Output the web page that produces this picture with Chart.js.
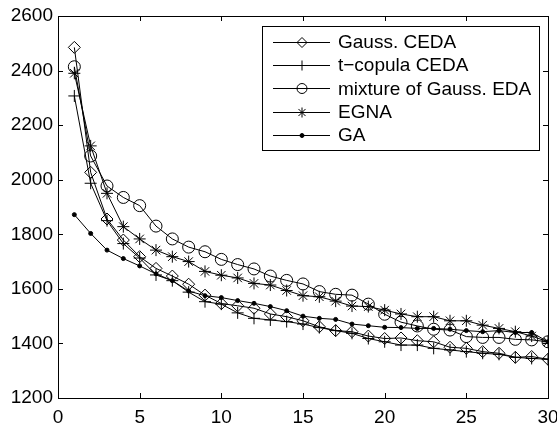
<!DOCTYPE html>
<html>
<head>
<meta charset="utf-8">
<script src="https://cdn.jsdelivr.net/npm/chart.js@4.4.0/dist/chart.umd.min.js"></script>
<style>
html,body{margin:0;padding:0;background:#fff;}
</style>
</head>
<body>
<canvas id="c" width="557" height="426"></canvas>
<script>
// generations on the x axis
const generations = [1,2,3,4,5,6,7,8,9,10,11,12,13,14,15,16,17,18,19,20,21,22,23,24,25,26,27,28,29,30];

const gaussCeda = [2485,2027,1856,1779,1718,1675,1647,1617,1577,1546,1538,1529,1508,1498,1483,1461,1447,1443,1427,1418,1420,1410,1406,1386,1382,1370,1364,1349,1352,1342];
const tCopulaCeda = [2307,1987,1850,1766,1713,1651,1630,1588,1553,1544,1512,1492,1486,1480,1471,1458,1447,1437,1418,1406,1394,1394,1382,1376,1370,1364,1360,1349,1345,1342];
const mixtureEda = [2414,2087,1977,1935,1905,1830,1783,1753,1736,1708,1689,1673,1647,1631,1618,1590,1580,1577,1544,1507,1478,1464,1452,1449,1425,1422,1422,1415,1413,1406];
const egna = [2390,2124,1950,1828,1783,1742,1718,1700,1664,1650,1640,1620,1614,1594,1575,1571,1555,1537,1535,1522,1508,1498,1498,1483,1483,1467,1455,1443,1427,1406];
const ga = [1872,1803,1742,1711,1684,1655,1630,1592,1575,1568,1557,1547,1535,1520,1500,1492,1488,1471,1465,1459,1458,1455,1455,1452,1447,1443,1447,1440,1440,1406];

const xTicks = [0,5,10,15,20,25,30];
const yTicks = [1200,1400,1600,1800,2000,2200,2400,2600];

const FONT = "'Liberation Sans', Arial, Helvetica, sans-serif";

function pts(arr){ return arr.map((v,i)=>({x:generations[i], y:v})); }

function series(label, values, style, radius, fill){
  return {
    label: label,
    data: pts(values),
    borderColor: '#000',
    backgroundColor: fill || 'rgba(0,0,0,0)',
    borderWidth: 1,
    pointStyle: style,
    pointRadius: radius,
    pointBorderWidth: 1,
    pointBorderColor: '#000',
    pointBackgroundColor: fill || 'rgba(0,0,0,0)',
    tension: 0
  };
}

// inward ticks on all four sides + box
const boxTicks = {
  id: 'boxTicks',
  afterDraw(chart){
    const ctx = chart.ctx, a = chart.chartArea;
    const xs = chart.scales.x, ys = chart.scales.y;
    const len = 5;
    ctx.save();
    ctx.strokeStyle = '#000';
    ctx.lineWidth = 1;
    ctx.beginPath();
    xTicks.forEach(v=>{
      const px = Math.round(xs.getPixelForValue(v)) + 0.5;
      ctx.moveTo(px, a.bottom); ctx.lineTo(px, a.bottom - len);
      ctx.moveTo(px, a.top); ctx.lineTo(px, a.top + len);
    });
    yTicks.forEach(v=>{
      const py = Math.round(ys.getPixelForValue(v)) + 0.5;
      ctx.moveTo(a.left, py); ctx.lineTo(a.left + len, py);
      ctx.moveTo(a.right, py); ctx.lineTo(a.right - len, py);
    });
    ctx.stroke();
    ctx.strokeRect(Math.round(a.left)+0.5, Math.round(a.top)+0.5, Math.round(a.right-a.left), Math.round(a.bottom-a.top));
    ctx.restore();
  }
};

// legend box in the upper right of the axes
const boxLegend = {
  id: 'boxLegend',
  afterDraw(chart){
    const ctx = chart.ctx, a = chart.chartArea;
    const right = a.right - 9, top = a.top + 10;
    const w = 277, rowH = 23.4, h = 124;
    const left = right - w;
    ctx.save();
    ctx.fillStyle = '#fff';
    ctx.fillRect(left, top, w, h);
    ctx.strokeStyle = '#000';
    ctx.lineWidth = 1;
    ctx.strokeRect(Math.round(left)+0.5, Math.round(top)+0.5, w, h);
    ctx.font = '19px ' + FONT;
    ctx.textBaseline = 'middle';
    chart.data.datasets.forEach((ds, i)=>{
      const y = top + 15.5 + i * rowH;
      ctx.beginPath();
      ctx.moveTo(left + 11, Math.round(y)+0.5);
      ctx.lineTo(left + 68, Math.round(y)+0.5);
      ctx.stroke();
      ctx.fillStyle = ds.pointBackgroundColor;
      Chart.helpers.drawPoint(ctx, {
        pointStyle: ds.pointStyle,
        radius: ds.pointRadius < 3 ? 2 : 5,
        rotation: 0,
        borderWidth: 1
      }, left + 40, Math.round(y)+0.5);
      ctx.fillStyle = '#000';
      ctx.fillText(ds.label, left + 76, y + 1);
    });
    ctx.restore();
  }
};

const tickFont = {family: FONT, size: 19};

new Chart(document.getElementById('c'), {
  type: 'line',
  data: {
    datasets: [
      series('Gauss. CEDA', gaussCeda, 'rectRot', 6),
      series('t\u2212copula CEDA', tCopulaCeda, 'cross', 6),
      series('mixture of Gauss. EDA', mixtureEda, 'circle', 6),
      series('EGNA', egna, 'star', 6),
      series('GA', ga, 'circle', 2, '#000')
    ]
  },
  options: {
    responsive: false,
    animation: false,
    layout: {padding: {top: 16, right: 9, left: 0, bottom: 0}},
    plugins: {legend: {display: false}, tooltip: {enabled: false}},
    scales: {
      x: {
        type: 'linear', min: 0, max: 30,
        afterBuildTicks(s){ s.ticks = xTicks.map(v=>({value:v})); },
        ticks: {font: tickFont, color: '#000', padding: 8, maxRotation: 0, autoSkip: false, callback: v => String(v)},
        grid: {display: false, drawTicks: false},
        border: {display: true, color: '#000', width: 1},
        afterFit(s){ s.height = 28; s.paddingLeft = 0; s.paddingRight = 0; }
      },
      y: {
        type: 'linear', min: 1200, max: 2600,
        afterBuildTicks(s){ s.ticks = yTicks.map(v=>({value:v})); },
        ticks: {font: tickFont, color: '#000', padding: 5, autoSkip: false, callback: v => String(v)},
        grid: {display: false, drawTicks: false},
        border: {display: true, color: '#000', width: 1},
        afterFit(s){ s.width = 58; s.paddingTop = 0; s.paddingBottom = 0; }
      }
    }
  },
  plugins: [boxTicks, boxLegend]
});
</script>
</body>
</html>
